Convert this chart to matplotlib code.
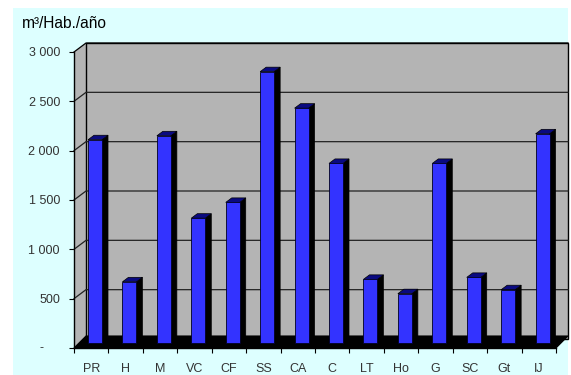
import numpy as np
import matplotlib.pyplot as plt
from matplotlib.patches import Polygon, Rectangle

plt.rcParams['font.family'] = ['Liberation Sans', 'DejaVu Sans']

categories = ['PR', 'H', 'M', 'VC', 'CF', 'SS', 'CA', 'C', 'LT', 'Ho', 'G', 'SC', 'Gt', 'IJ']
values = [2060, 620, 2100, 1265, 1425, 2750, 2380, 1820, 645, 500, 1820, 665, 540, 2120]
yticks = [0, 500, 1000, 1500, 2000, 2500, 3000]
ytick_labels = ['', '500', '1 000', '1 500', '2 000', '2 500', '3 000']
title = 'm³/Hab./año'

W, H = 571, 375
fig = plt.figure(figsize=(W / 100, H / 100), dpi=100)
fig.patches.append(Rectangle((13 / W, 0), (568 - 13) / W, 367 / H, transform=fig.transFigure,
                             facecolor='#ddffff', edgecolor='none', zorder=-10))
ax = fig.add_axes([74 / W, 27 / H, 482 / W, 296 / H])
ax.set_facecolor('none')
n = len(categories)
ax.set_xlim(-0.5, n - 0.5)
ax.set_ylim(0, 3000)

# pixel -> data units
px_x = n / 482
px_y = 3000 / 296
bdx, bdy = 12 * px_x, 9 * px_y  # depth of the back wall
wall = '#b4b4b4'

# left wall + back wall
ax.add_patch(Polygon([(-0.5, 0), (-0.5 + bdx, bdy), (-0.5 + bdx, 3000 + bdy), (-0.5, 3000)],
                     facecolor=wall, edgecolor='none', clip_on=False, zorder=1))
ax.add_patch(Rectangle((-0.5 + bdx, bdy), n, 3000, facecolor=wall, edgecolor='black',
                       lw=1, clip_on=False, zorder=1))
for v in yticks[1:]:
    ax.plot([-0.5, -0.5 + bdx, n - 0.5 + bdx], [v, v + bdy, v + bdy],
            color='#222222' if v < 3000 else 'black', lw=0.9, clip_on=False, zorder=2)

# floor
fy = 12 * px_y
ax.add_patch(Polygon([(-0.5, 0), (n - 0.5, 0), (n - 0.5 + bdx, fy), (-0.5 + bdx, fy)],
                     facecolor='black', edgecolor='black', lw=0.8, clip_on=False, zorder=3))

# bars
bw = 14 * px_x
sdx, sdy = 6 * px_x, 4.5 * px_y
y0 = 5 * px_y
for i, v in enumerate(values):
    x0 = i - 0.093
    x1 = x0 + bw
    top = y0 + v
    ax.add_patch(Polygon([(x1, y0), (x1 + sdx, y0 + sdy), (x1 + sdx, top + sdy), (x1, top)],
                         facecolor='black', edgecolor='black', lw=0.5, clip_on=False, zorder=4))
    ax.add_patch(Polygon([(x0, top), (x1, top), (x1 + sdx, top + sdy), (x0 + sdx, top + sdy)],
                         facecolor='#0a0a80', edgecolor='black', lw=0.5, clip_on=False, zorder=4))
    ax.add_patch(Rectangle((x0, y0), bw, v, facecolor='#3333ff', edgecolor='#000022',
                           lw=0.6, clip_on=False, zorder=5))

for s in ['top', 'right']:
    ax.spines[s].set_visible(False)
for s in ['left', 'bottom']:
    ax.spines[s].set_color('black')
    ax.spines[s].set_linewidth(1)
    ax.spines[s].set_zorder(6)

ax.set_yticks(yticks, ytick_labels)
ax.tick_params(axis='y', length=3.6, width=0.8, pad=6.5, labelsize=9, labelcolor='#333333')
ax.text(-1.43, 0, '-', ha='center', va='center', fontsize=9, color='#333333')

ax.set_xticks(np.arange(n + 1) - 0.5, [''] * (n + 1))
ax.set_xticks(np.arange(n), categories, minor=True)
ax.tick_params(axis='x', which='major', length=3.6, width=0.8)
ax.tick_params(axis='x', which='minor', length=0, pad=10.5, labelsize=9, labelcolor='#333333')

fig.text(22 / W, (H - 28) / H, title, fontsize=11.2, va='baseline', ha='left', color='black')

fig.savefig('out.png', dpi=100)
